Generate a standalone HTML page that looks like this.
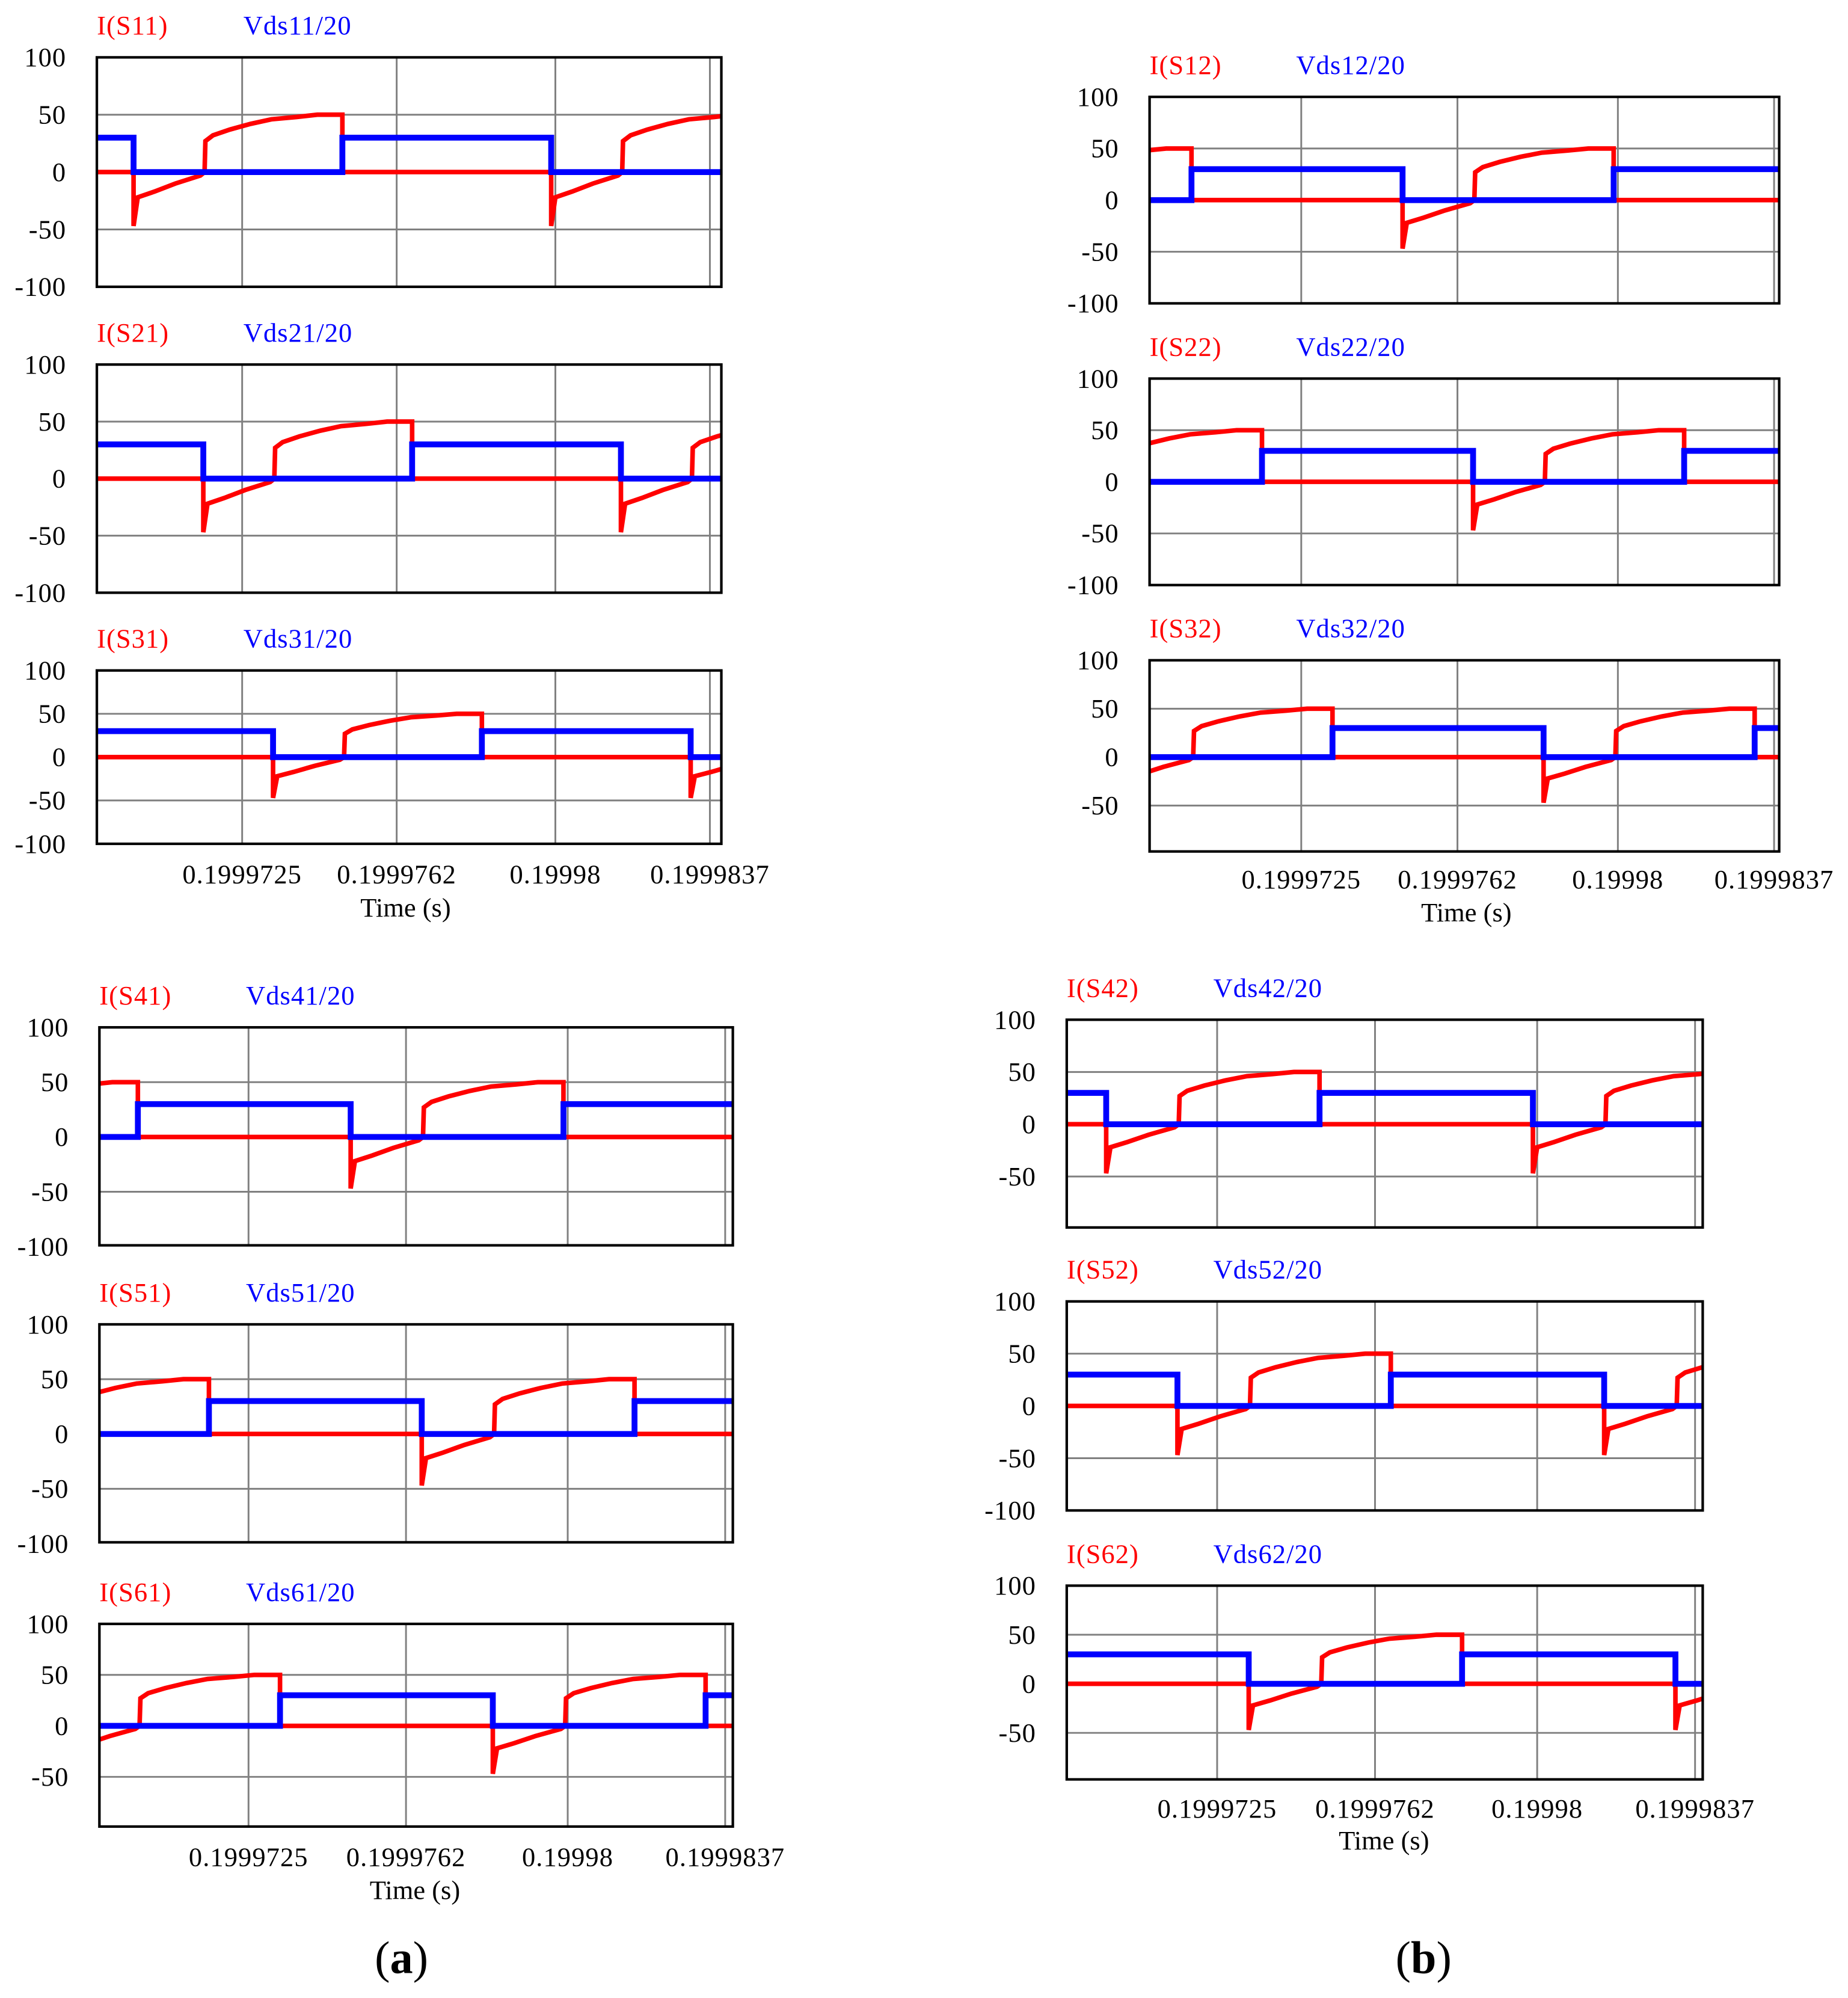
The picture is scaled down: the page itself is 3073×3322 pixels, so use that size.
<!DOCTYPE html>
<html><head><meta charset="utf-8"><style>
html,body{margin:0;padding:0;background:#fff;}
svg{display:block;}
text{font-family:"Liberation Serif",serif;}
</style></head><body>
<svg id="fig" xmlns="http://www.w3.org/2000/svg" width="3073" height="3322" viewBox="0 0 1450 1567.5" preserveAspectRatio="none">
<rect x="0" y="0" width="1450" height="1567.5" fill="#fff"/>
<g id="root"></g>
<text x="315" y="1548" font-size="36" text-anchor="middle">(<tspan font-weight="bold">a</tspan>)</text>
<text x="1117" y="1548" font-size="36" text-anchor="middle">(<tspan font-weight="bold">b</tspan>)</text>
</svg>
<script>
// ---- data ----
const switchNames = ["S11","S21","S31","S12","S22","S32","S41","S51","S61","S42","S52","S62"];
// turn-on instants (µs relative to t=0.1999725 s)
const turnOnPhase = [-2.6,-0.93,0.74,2.4,4.07,5.74,2.4,4.07,5.74,-2.6,-0.93,0.74];
const periodUs = [10];
const vdsOffLevel = [30];
// current waveform during conduction: [µs after turn-on, A]
const currentShapeT = [0,0,0.1,0.5,1.0,1.6,1.7,1.72,1.9,2.3,2.8,3.3,3.9,4.4,5.0,5.0];
const currentShapeV = [0,-47,-22,-17,-10,-3,0,27,32,37,42,46,48,50,50,0];
const xTickLabels = ["0.1999725","0.1999762","0.19998","0.1999837"];
const xTickValues = [0,3.7,7.5,11.2];
const yTicks5 = [100,50,0,-50,-100];
const yTicks4 = [100,50,0,-50];

// ---- layout ----
const cols = [
 {x0:76,x1:566,g0:190,g1:557,lab:686,time:712,panels:[[45,135,225,5],[286,375.5,465,5],[526,594,662,5]]},
 {x0:902,x1:1396,g0:1021,g1:1392,lab:690,time:716,panels:[[76,157,238,5],[297,378,459,5],[518,594,668,4]]},
 {x0:78,x1:575,g0:195,g1:569,lab:1457,time:1483,panels:[[806,892,977,5],[1039,1125,1210,5],[1274,1354,1433,4]]},
 {x0:837,x1:1336,g0:955,g1:1330,lab:1419,time:1444,panels:[[800,882,963,4],[1021,1103,1185,5],[1244,1321,1396,4]]}
];
const NS="http://www.w3.org/2000/svg";
const root=document.getElementById('root');
function mk(tag,attrs,parent){const e=document.createElementNS(NS,tag);for(const k in attrs)e.setAttribute(k,attrs[k]);(parent||root).appendChild(e);return e;}
let idx=0;
cols.forEach((c,ci)=>{
  const xs=t=>c.g0+(t-xTickValues[0])*(c.g1-c.g0)/(xTickValues[3]-xTickValues[0]);
  const tmin=(c.x0-c.g0)/(c.g1-c.g0)*11.2, tmax=(c.x1-c.g0)/(c.g1-c.g0)*11.2;
  c.panels.forEach((p,pi)=>{
    const name=switchNames[idx], ph=turnOnPhase[idx]; idx++;
    const [top,zero,bottom,nt]=p;
    const ys=v=>zero-v*(zero-top)/100;
    const g=mk('g',{});
    
    
    const cid='clip'+name;
    const cp=mk('clipPath',{id:cid},g); mk('rect',{x:c.x0,y:top,width:c.x1-c.x0,height:bottom-top},cp);
    xTickValues.forEach(v=>{const l=mk('line',{x1:xs(v),x2:xs(v),y1:top,y2:bottom,stroke:'#808080','stroke-width':1.4},g);
      });
    [50,0,-50].forEach(v=>{const y=ys(v);if(y<bottom-1){const l=mk('line',{x1:c.x0,x2:c.x1,y1:y,y2:y,stroke:'#808080','stroke-width':1.4},g);
      }});
    (nt===5?yTicks5:yTicks4).forEach(v=>{const t=mk('text',{x:c.x0-24,y:ys(v)+7,'font-size':21,'text-anchor':'end',fill:'#000','letter-spacing':0.5},g);t.textContent=v;
      });
    const r=mk('text',{x:c.x0,y:top-18,'font-size':21,fill:'#ff0000','letter-spacing':0.5},g);r.textContent='I('+name+')';
    
    const b=mk('text',{x:c.x0+115,y:top-18,'font-size':21,fill:'#0000ff','letter-spacing':0.5},g);b.textContent='Vds'+name.slice(1)+'/20';
    
    const T=periodUs[0];
    let rp=[],bp=[];
    let s=ph; while(s>tmin-T) s-=T;
    rp.push([tmin-1,0]); bp.push([tmin-1,vdsOffLevel[0]]);
    for(;s<tmax+T;s+=T){
      for(let i=0;i<currentShapeT.length;i++) rp.push([s+currentShapeT[i],currentShapeV[i]]);
      bp.push([s,vdsOffLevel[0]],[s,0],[s+T/2,0],[s+T/2,vdsOffLevel[0]]);
    }
    const toD=a=>a.map((q,i)=>(i?'L':'M')+xs(q[0]).toFixed(2)+','+ys(q[1]).toFixed(2)).join('');
    const rl=mk('path',{d:toD(rp),fill:'none',stroke:'#ff0000','stroke-width':3.6,'clip-path':'url(#'+cid+')'},g);
    
    const bl=mk('path',{d:toD(bp),fill:'none',stroke:'#0000ff','stroke-width':4.6,'clip-path':'url(#'+cid+')'},g);
    
    const fr=mk('rect',{x:c.x0,y:top,width:c.x1-c.x0,height:bottom-top,fill:'none',stroke:'#000','stroke-width':2},g);
    
    if(pi===2){
      xTickValues.forEach((v,k)=>{const t=mk('text',{x:xs(v),y:c.lab+7,'font-size':21,'text-anchor':'middle','letter-spacing':0.5},g);t.textContent=xTickLabels[k];
        });
      const tt=mk('text',{x:xs(xTickValues[1])+7,y:c.time+7,'font-size':21,'text-anchor':'middle'},g);tt.textContent='Time (s)';
      
    }
  });
});
</script>
</body></html>
